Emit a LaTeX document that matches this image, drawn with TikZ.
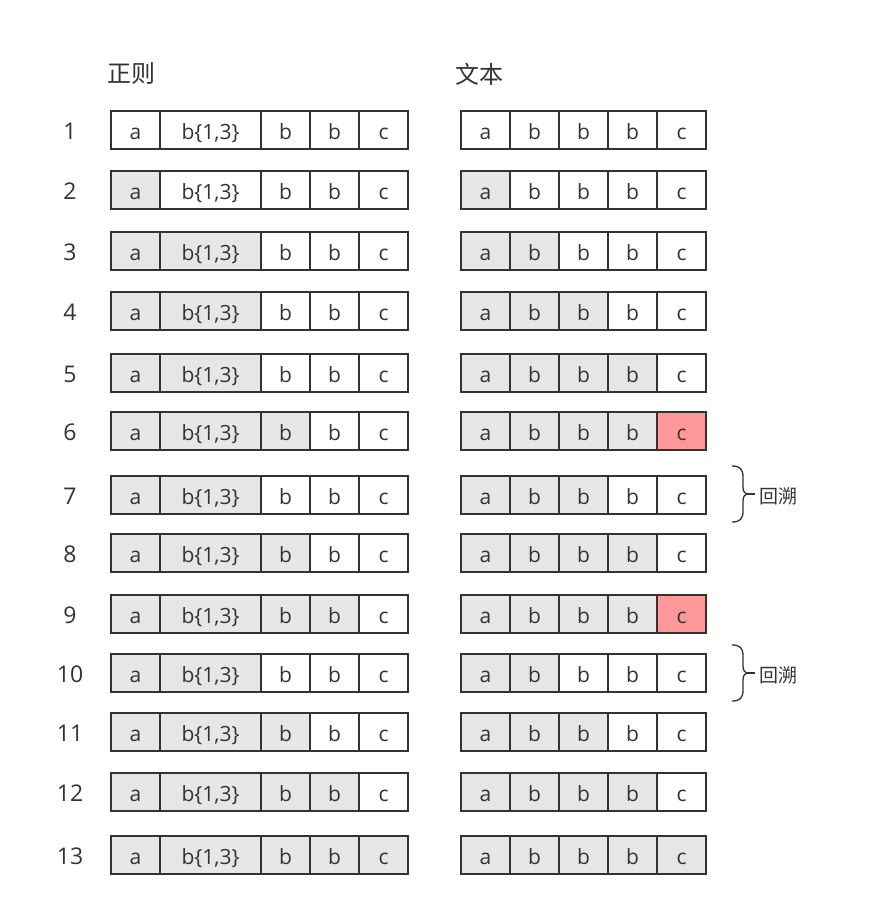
\documentclass[tikz,border=0pt]{standalone}
\usepackage{fontspec}
\setmainfont{Open Sans}
\newfontfamily\cjk{Noto Sans CJK SC}
\usepackage{tikz}

\definecolor{ink}{HTML}{333333}
\definecolor{hit}{HTML}{E6E6E6}
\definecolor{miss}{HTML}{FF9999}
\newcommand{\rng}{b\{1,3\}}

\tikzset{backtrack/.pic={
    \draw[ink, line width=1.3pt] (0,-28) .. controls (8,-28) and (11,-25) .. (11,-17) -- (11,-7)
        .. controls (11,-2) and (13,0) .. (17,0) .. controls (13,0) and (11,2) .. (11,7)
        -- (11,17) .. controls (11,25) and (8,28) .. (0,28);
    \draw[ink, line width=1.3pt] (16,0) -- (23,0);
}}

\begin{document}
\begin{tikzpicture}[x=1pt, y=-1pt,
    cell/.style={draw=ink, line width=1.6pt, text=ink, anchor=north west, inner sep=0pt, outer sep=0pt,
        minimum height=38pt, text height=20pt, text depth=2pt, font=\fontsize{21}{24}\selectfont},
    num/.style={text=ink, anchor=base, inner sep=0pt, font=\fontsize{23}{26}\selectfont},
    title/.style={text=ink, inner sep=0pt, font=\fontsize{24}{28}\selectfont\cjk},
    note/.style={text=ink, anchor=west, inner sep=0pt, font=\fontsize{19}{22}\selectfont\cjk}]
    \fill[white] (0,0) rectangle (868,910);

    % headings
    \node[title] (re) at (131,73) {正则};
    \node[title] (tx) at (479,74) {文本};

    % steps: row / top / regex cells matched / text cells matched / mismatch on c
    \foreach \row/\y/\rg/\tx/\bad in {1/111/0/0/0, 2/171/1/1/0, 3/232/2/2/0, 4/292/2/3/0,
            5/354/2/4/0, 6/412/3/4/1, 7/476/2/3/0, 8/534/3/4/0, 9/595/4/4/1,
            10/654/2/2/0, 11/713/3/3/0, 12/773/4/4/0, 13/836/5/5/0} {
        \node[num] (n\row) at (70,\y+28) {\row};
        % regex
        \foreach \col/\x/\w/\lab in {1/111/49/a, 2/160/101/\rng, 3/261/49/b, 4/310/49/b, 5/359/49/c} {
            \ifnum\col>\rg\relax \def\fc{white}\else\def\fc{hit}\fi
            \node[cell, fill=\fc, minimum width=\w pt] (r\row-\col) at (\x,\y) {\lab};
        }
        % text
        \foreach \col/\lab in {1/a, 2/b, 3/b, 4/b, 5/c} {
            \ifnum\col>\tx\relax \def\fc{white}\else\def\fc{hit}\fi
            \ifnum\col=5 \ifnum\bad=1 \def\fc{miss}\fi\fi
            \node[cell, fill=\fc, minimum width=49pt] (t\row-\col) at ({461+49*(\col-1)},\y) {\lab};
        }
    }

    % backtracking
    \coordinate (k7) at (732,494);
    \pic at (k7) {backtrack};
    \node[note] (b7) at (759,496) {回溯};

    \coordinate (k10) at (732,673);
    \pic at (k10) {backtrack};
    \node[note] (b10) at (759,675) {回溯};
\end{tikzpicture}
\end{document}
